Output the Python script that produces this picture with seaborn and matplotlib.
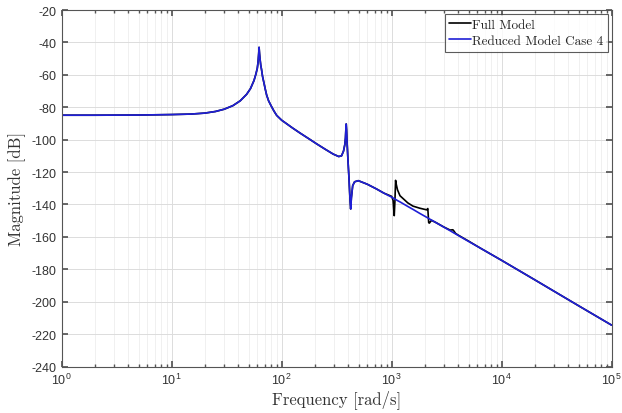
"""
Bode magnitude plot: full model vs reduced model (case 4)
"""

import numpy as np
import pandas as pd
import matplotlib
matplotlib.use("Agg")
import matplotlib.pyplot as plt
import seaborn as sns
from matplotlib.ticker import LogLocator, FixedLocator

# Frequency points [rad/s]
freq = [1, 2, 5, 10, 15, 20, 25, 30, 36, 42, 48, 52, 56, 58, 60, 61, 61.8,
        62.3, 62.9, 63.5, 64.5, 65.5, 67, 69, 71, 73, 76, 80, 85, 90, 100,
        110, 125, 146, 180, 208, 250, 294, 330, 350, 365, 375, 380, 383, 386,
        389, 392, 396, 400, 410, 418, 424, 430, 442, 460, 497, 600, 727, 850,
        1000, 1030, 1045, 1055, 1070, 1085, 1100, 1130, 1190, 1400, 1560, 1800,
        2080, 2130, 2170, 2200, 2300, 2500, 3000, 3400, 3600, 3700, 3800, 4000,
        5000, 6350, 10000, 20000, 50000, 100000]

# Magnitude [dB] shared by both models below 1 krad/s
mag_low = [-84.9, -84.9, -84.8, -84.5, -84.2, -83.6, -82.6, -81.2, -79.0,
           -76.0, -72.0, -68.5, -63.5, -60.0, -56.0, -52.0, -47.0, -43.0,
           -47.0, -50.0, -54.0, -56.5, -61.0, -65.0, -69.0, -72.5, -76.0,
           -79.0, -82.3, -85.0, -88.0, -90.0, -92.7, -95.8, -99.8, -102.6,
           -106.0, -108.9, -110.4, -110.0, -107.0, -103.0, -99.0, -94.0, -90.3,
           -94.0, -100.0, -106.0, -112.0, -125.0, -137.0, -142.8, -136.0,
           -128.4, -126.0, -125.3, -127.5, -130.4, -133.0]

# Magnitude [dB] from 1 krad/s up, reduced model
mag_reduced_high = [-135.5, -136.0, -136.2, -136.4, -136.6, -136.9, -137.1,
                    -137.6, -138.4, -141.2, -143.0, -145.5, -147.9, -148.3,
                    -148.6, -148.9, -149.6, -151.0, -154.1, -156.2, -157.2,
                    -157.7, -158.1, -159.0, -162.8, -166.8, -174.5, -186.5,
                    -202.5, -214.5]

# Magnitude [dB] from 1 krad/s up, full model
mag_full_high = [-135.0, -137.5, -143.5, -146.9, -138.0, -125.1, -127.5,
                 -131.0, -134.6, -139.0, -141.0, -142.3, -143.3, -142.5,
                 -151.2, -151.5, -149.8, -151.0, -154.0, -155.8, -155.6,
                 -156.6, -157.8, -158.8, -162.6, -166.8, -174.5, -186.5,
                 -202.5, -214.5]

df = pd.DataFrame({"freq": freq,
                   "full": mag_low + mag_full_high,
                   "reduced": mag_low + mag_reduced_high})

sns.set_theme(style="white")
plt.rcParams["font.family"] = ["Liberation Sans", "DejaVu Sans"]
plt.rcParams["axes.unicode_minus"] = False
plt.rcParams["mathtext.fontset"] = "custom"
plt.rcParams["mathtext.rm"] = "Liberation Sans"
plt.rcParams["mathtext.it"] = "Liberation Sans:italic"
plt.rcParams["xtick.direction"] = "in"
plt.rcParams["ytick.direction"] = "in"

serif = ["cmr10", "DejaVu Serif"]

fig = plt.figure(figsize=(6.22, 4.14), dpi=100)
ax = fig.add_axes([0.0992, 0.1123, 0.8842, 0.861])

sns.lineplot(data=df, x="freq", y="full", ax=ax, color="black", lw=1.2,
             sort=False, estimator=None, label="Full Model")
sns.lineplot(data=df, x="freq", y="reduced", ax=ax, color="#1f1fd6", lw=1.2,
             sort=False, estimator=None, label="Reduced Model Case 4")

ax.set_xscale("log")
ax.set_xlim(1, 1e5)
ax.set_ylim(-240, -20)
ax.yaxis.set_major_locator(FixedLocator(np.arange(-240, -19, 20)))
ax.xaxis.set_major_locator(LogLocator(base=10, numticks=10))
ax.xaxis.set_minor_locator(LogLocator(base=10, subs=np.arange(2, 10), numticks=20))

ax.grid(True, which="major", color="#dcdcdc", lw=0.7)
ax.grid(True, which="minor", axis="x", color="#eeeeee", lw=0.6)

for s in ax.spines.values():
    s.set_color("#555555")
    s.set_linewidth(0.8)

ax.tick_params(which="both", direction="in", top=True, right=True,
               bottom=True, left=True,
               colors="#555555", labelcolor="#333333", labelsize=9)
ax.tick_params(which="major", length=4)
ax.tick_params(which="minor", length=2)

ax.set_xlabel("Frequency [rad/s]", family=serif, fontsize=12, color="#333333",
              labelpad=2)
ax.set_ylabel("Magnitude [dB]", family=serif, fontsize=12, color="#333333")

leg = ax.legend(loc="upper right", prop={"family": serif, "size": 9.5},
                frameon=True, fancybox=False, edgecolor="#333333",
                borderpad=0.35, handlelength=1.6, handletextpad=0.1,
                labelspacing=0.3, borderaxespad=0.3)
leg.get_frame().set_linewidth(0.8)

fig.savefig("out.png", dpi=100)
